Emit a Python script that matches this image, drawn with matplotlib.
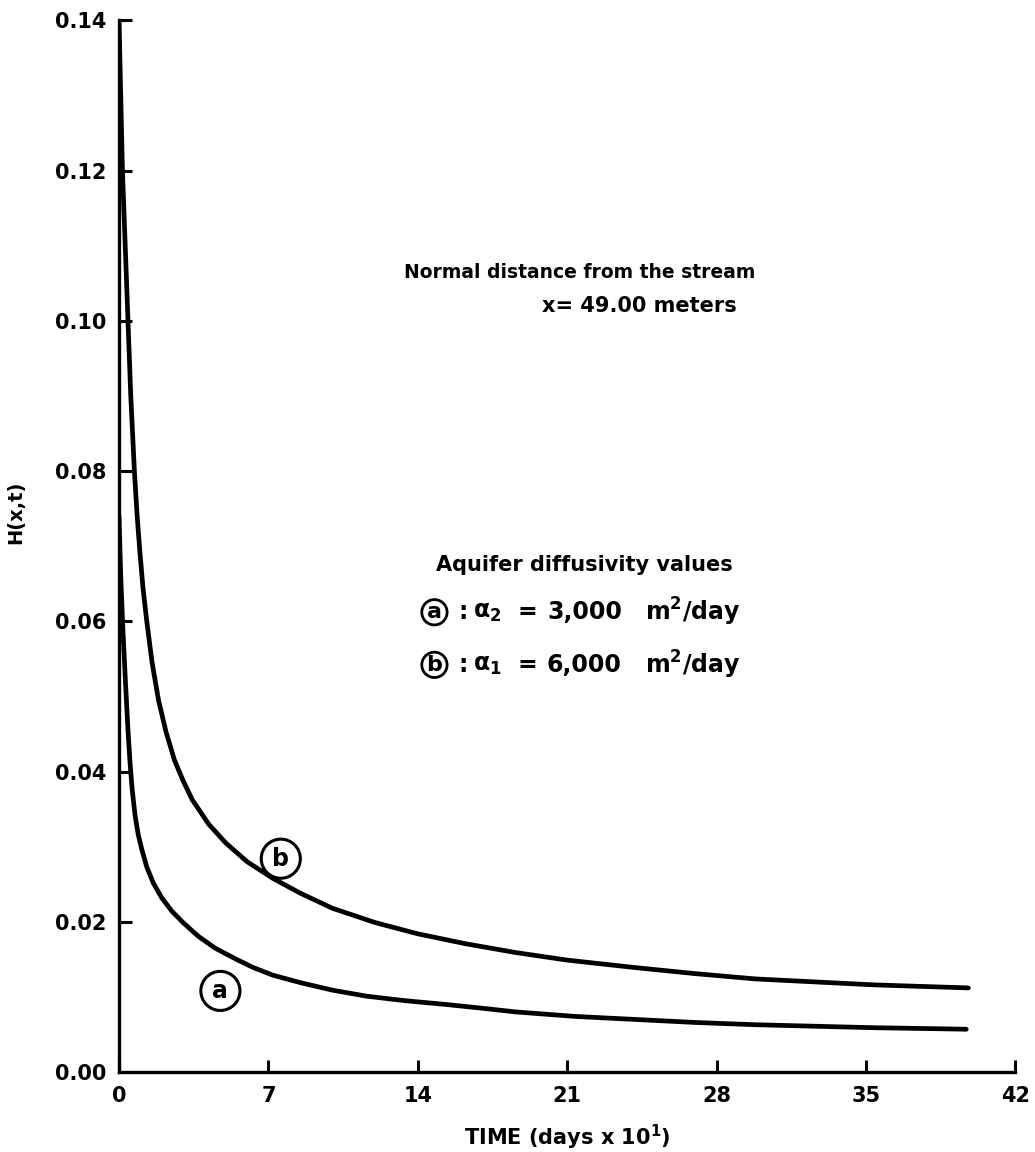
import numpy as np
import matplotlib
matplotlib.use("Agg")
import matplotlib.pyplot as plt

plt.rc("font", family="DejaVu Sans", weight="bold")
plt.rc("axes", labelweight="bold")

# values (time in days x 10, H in meters)
time_b = [0.0, 0.16, 0.42, 0.55, 0.72, 0.85, 0.97, 1.12, 1.3, 1.55, 1.85, 2.2, 2.6, 3.0, 3.42,
          4.2, 5.0, 6.0, 7.2, 8.5, 10.0, 12.0, 14.0, 16.2, 18.6, 21.0, 24.2, 27.0, 29.8, 32.6, 35.4, 37.6, 39.8]
head_b = [0.140, 0.120, 0.100, 0.090, 0.080, 0.074, 0.0695, 0.0645, 0.060, 0.0545, 0.0495, 0.0453, 0.0415, 0.0388, 0.0363,
          0.0330, 0.0305, 0.0280, 0.0258, 0.0238, 0.0218, 0.0199, 0.0184, 0.0171, 0.0159, 0.0149, 0.0139, 0.0131, 0.0124, 0.0120, 0.0116, 0.0114, 0.0112]

time_a = [0.0, 0.08, 0.18, 0.3, 0.42, 0.52, 0.62, 0.75, 0.9, 1.07, 1.3, 1.6, 2.0, 2.48, 3.0, 3.7, 4.5,
          5.5, 6.3, 7.2, 8.5, 10.0, 11.6, 13.4, 15.3, 17.0, 18.6, 21.4, 24.2, 27.0, 29.8, 32.6, 35.4, 37.6, 39.7]
head_a = [0.074, 0.066, 0.059, 0.052, 0.0455, 0.041, 0.0375, 0.0342, 0.0316, 0.0296, 0.0273, 0.0252, 0.0232, 0.0214, 0.0199, 0.0181, 0.0165,
          0.0150, 0.0139, 0.0129, 0.0119, 0.0109, 0.0101, 0.0095, 0.0090, 0.0085, 0.0080, 0.0074, 0.0070, 0.0066, 0.0063, 0.0061, 0.0059, 0.0058, 0.0057]

x_ticks = [0, 7, 14, 21, 28, 35, 42]
y_ticks = [0.00, 0.02, 0.04, 0.06, 0.08, 0.10, 0.12, 0.14]

fig = plt.figure(figsize=(10.35, 11.52), dpi=100)
ax = fig.add_axes([0.115, 0.0694, 0.866, 0.913])

ax.plot(time_b, head_b, color="black", lw=3.4, solid_capstyle="round", solid_joinstyle="round")
ax.plot(time_a, head_a, color="black", lw=3.4, solid_capstyle="round", solid_joinstyle="round")

ax.set_xlim(0, 42)
ax.set_ylim(0, 0.14)
ax.set_xticks(x_ticks)
ax.set_yticks(y_ticks)
ax.set_xticklabels([str(v) for v in x_ticks])
ax.set_yticklabels(["%.2f" % v for v in y_ticks])
ax.tick_params(direction="in", length=9, width=2.2, labelsize=15, pad=10)
ax.tick_params(axis="y", pad=9)

for side in ["top", "right"]:
    ax.spines[side].set_visible(False)
for side in ["left", "bottom"]:
    ax.spines[side].set_linewidth(2.4)

ax.set_xlabel(r"TIME (days x 10$^{\mathbf{1}}$)", fontsize=15, labelpad=12)
ax.set_ylabel("H(x,t)", fontsize=14)
ax.yaxis.set_label_coords(-0.105, 0.532)

# circled curve labels
big = dict(boxstyle="circle,pad=0.32", fc="white", ec="black", lw=2.2)
ax.text(7.58, 0.0284, "b", fontsize=17, ha="center", va="center", bbox=big)
ax.text(4.75, 0.0108, "a", fontsize=17, ha="center", va="center", bbox=big)

ax.text(21.6, 0.1064, "Normal distance from the stream", fontsize=13.5, ha="center", va="center")
ax.text(24.4, 0.1020, "x= 49.00 meters", fontsize=15, ha="center", va="center")
ax.text(21.8, 0.0675, "Aquifer diffusivity values", fontsize=15, ha="center", va="center")

small = dict(boxstyle="circle,pad=0.12", fc="white", ec="black", lw=2.0)
legend_rows = [("a", r"$\mathbf{\alpha_2}$", "3,000", 0.0612),
               ("b", r"$\mathbf{\alpha_1}$", "6,000", 0.0542)]
for letter, alpha, value, yy in legend_rows:
    ax.text(14.78, yy, letter, fontsize=16, ha="center", va="center", bbox=small)
    ax.text(15.9, yy, ":", fontsize=17, ha="left", va="center")
    ax.text(16.6, yy, alpha, fontsize=17, ha="left", va="center")
    ax.text(19.15, yy, "=", fontsize=17, ha="center", va="center")
    ax.text(20.05, yy, value, fontsize=17, ha="left", va="center")
    ax.text(24.66, yy, r"m$^{\mathbf{2}}$/day", fontsize=17, ha="left", va="center")

plt.savefig("out.png", dpi=100)
